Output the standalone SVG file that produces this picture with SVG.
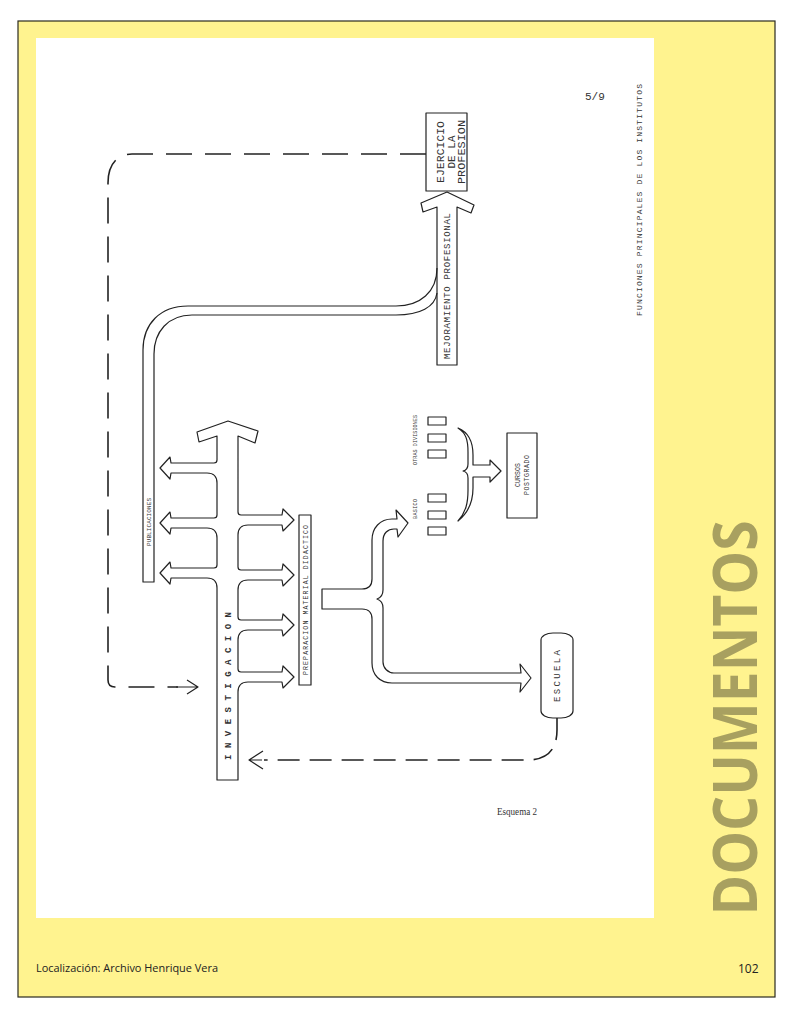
<svg xmlns="http://www.w3.org/2000/svg" width="792" height="1020" viewBox="0 0 792 1020">
<style>
.ln{fill:none;stroke:#222;stroke-width:1.2;stroke-linejoin:round}
.sh{fill:#fff;stroke:#222;stroke-width:1.2;stroke-linejoin:round}
.dash{fill:none;stroke:#222;stroke-width:1.6;stroke-dasharray:26 13}
.tw{font-family:"Liberation Mono","DejaVu Sans Mono",monospace;fill:#333}
</style>
<g id="page">
<rect x="0" y="0" width="792" height="1020" fill="#fff"/>
<rect x="18" y="21" width="757" height="976" fill="#FFF38F" stroke="#2b2b1f" stroke-width="1.2"/>
<rect x="36" y="38" width="618" height="880" fill="#fff"/>
<text transform="translate(757,718) rotate(-90)" text-anchor="middle" font-family="'Open Sans','Liberation Sans',sans-serif" font-weight="bold" font-size="60" fill="#A8A060" textLength="395" lengthAdjust="spacingAndGlyphs">DOCUMENTOS</text>
<text x="36" y="972" font-family="'Open Sans','Liberation Sans',sans-serif" font-size="11.5" fill="#222" textLength="182" lengthAdjust="spacingAndGlyphs">Localización: Archivo Henrique Vera</text>
<text x="738" y="973" font-family="'Open Sans','Liberation Sans',sans-serif" font-size="12" fill="#222">102</text>
<text x="585" y="100" class="tw" font-size="11">5/9</text>
<text transform="translate(642,200) rotate(-90)" text-anchor="middle" class="tw" font-size="8" textLength="232" lengthAdjust="spacing">FUNCIONES PRINCIPALES DE LOS INSTITUTOS</text>
<text x="497" y="815" font-family="'Liberation Serif',serif" fill="#333" font-size="11" textLength="40" lengthAdjust="spacingAndGlyphs">Esquema 2</text>
</g>
<g id="connectors">
<path class="dash" d="M426,154 L132,154 C116,154 108,166 108,183 L108,680 Q108,687 115,687 L178,687"/>
<path class="ln" stroke-width="1.4" d="M187,680 L198,687 L187,694 M176,687 L198,687"/>
<path class="dash" style="stroke-dasharray:22 10" d="M557,718 L557,730 C557,750 547,760 527,760 L264,760"/>
<path class="ln" stroke-width="1.4" d="M263,751 L249,760 L263,769 M249,760 L262,760"/>
</g>
<g id="ejercicio">
<rect class="sh" x="426" y="113" width="41" height="78"/>
<text class="tw" font-size="11" text-anchor="middle" transform="translate(444,152) rotate(-90)" textLength="62" lengthAdjust="spacingAndGlyphs">EJERCICIO</text>
<text class="tw" font-size="11" text-anchor="middle" transform="translate(455,152) rotate(-90)" textLength="33" lengthAdjust="spacingAndGlyphs">DE LA</text>
<text class="tw" font-size="11" text-anchor="middle" transform="translate(465,152) rotate(-90)" textLength="64" lengthAdjust="spacingAndGlyphs">PROFESION</text>
</g>
<g id="mejoramiento">
<path class="sh" d="M447,192 L421,203 L423,212 L437,207 L437,365 L457,365 L457,207 L471,213 L474,205 Z"/>
<text class="tw" font-size="9" text-anchor="middle" transform="translate(450,286) rotate(-90)" textLength="146" lengthAdjust="spacing">MEJORAMIENTO PROFESIONAL</text>
</g>
<g id="publicaciones">
<path class="ln" d="M437,268 C437,292 420,306 396,306 L188,306 C160,306 143,324 143,350 L143,582 L154,582 L154,354 C154,332 168,315 192,315 L396,315 C420,315 435,307 437,293"/>
<text class="tw" font-size="6" text-anchor="middle" transform="translate(151,522) rotate(-90)" textLength="48" lengthAdjust="spacing">PUBLICACIONES</text>
</g>
<g id="investigacion">
<path class="sh" d="M228,421 L197,432 L199,442 L217,436 L217,460 Q217,463 214,463 L171,463 L170,457 L160,468 L170,479 L171,473 L207,473 Q217,473 217,483 L217,515 Q217,518 214,518 L171,518 L170,512 L160,523 L170,534 L171,528 L207,528 Q217,528 217,538 L217,565 Q217,568 214,568 L171,568 L170,562 L160,573 L170,584 L171,578 L207,578 Q217,578 217,588 L217,780 L238,780 L238,692 Q238,682 248,682 L282,682 L283,688 L294,677 L283,666 L282,672 L241,672 Q238,672 238,669 L238,640 Q238,630 248,630 L282,630 L283,636 L294,625 L283,614 L282,620 L241,620 Q238,620 238,617 L238,590 Q238,580 248,580 L282,580 L283,586 L294,575 L283,564 L282,570 L241,570 Q238,570 238,567 L238,535 Q238,525 248,525 L282,525 L283,531 L294,520 L283,509 L282,515 L241,515 Q238,515 238,512 L238,436 L255,443 L258,431 Z"/>
<text class="tw" font-size="9" font-weight="bold" text-anchor="middle" transform="translate(231,686) rotate(-90)" textLength="148" lengthAdjust="spacing">INVESTIGACION</text>
</g>
<g id="preparacion">
<rect class="sh" x="299" y="515" width="12" height="170"/>
<text class="tw" font-size="6.5" text-anchor="middle" transform="translate(307.5,600) rotate(-90)" textLength="150" lengthAdjust="spacing">PREPARACION MATERIAL DIDACTICO</text>
</g>
<g id="reparto">
<path class="sh" d="M322,589 L362,589 Q372,589 372,579 L372,540 C372,528 380,519 392,519 L397,519 L396,510 L408,523 L398,537 L397,529 L394,529 C388,529 383,533 383,541 L383,590 Q383,597 377,599 Q383,601 383,608 L383,662 C383,668 388,673 394,673 L521,673 L520,664 L531,678 L520,692 L521,683 L392,683 C380,683 372,675 372,663 L372,619 Q372,609 362,609 L322,609 Z"/>
</g>
<g id="otras-divisiones">
<rect class="sh" x="428" y="417" width="18" height="8"/>
<rect class="sh" x="428" y="434" width="18" height="8"/>
<rect class="sh" x="428" y="450" width="18" height="8"/>
<text class="tw" font-size="5" text-anchor="middle" transform="translate(417,440) rotate(-90)" textLength="50" lengthAdjust="spacing">OTRAS DIVISIONES</text>
</g>
<g id="basico">
<rect class="sh" x="428" y="494" width="18" height="8"/>
<rect class="sh" x="428" y="511" width="18" height="8"/>
<rect class="sh" x="428" y="527" width="18" height="8"/>
<text class="tw" font-size="5" text-anchor="middle" transform="translate(417,509) rotate(-90)" textLength="20" lengthAdjust="spacing">BASICO</text>
</g>
<g id="llave">
<path class="sh" d="M458,428 C468,432 473,442 473,455 L473,465 L490,465 L490,460 L501,471 L490,482 L490,477 L473,477 L473,488 C473,502 468,513 458,521 C466,512 468,503 468,490 L468,478 Q468,472 463,471 Q468,470 468,464 L468,452 C468,440 466,433 458,428 Z"/>
</g>
<g id="postgrado">
<rect class="sh" x="507" y="433" width="30" height="85"/>
<text class="tw" font-size="6.5" text-anchor="middle" transform="translate(520,475) rotate(-90)" textLength="24" lengthAdjust="spacing">CURSOS</text>
<text class="tw" font-size="6.5" text-anchor="middle" transform="translate(529,475) rotate(-90)" textLength="40" lengthAdjust="spacing">POSTGRADO</text>
</g>
<g id="escuela">
<rect class="sh" x="541" y="633" width="32" height="85" rx="12" ry="7"/>
<text class="tw" font-size="9" text-anchor="middle" transform="translate(560,676) rotate(-90)" textLength="52" lengthAdjust="spacing">ESCUELA</text>
</g>
</svg>
